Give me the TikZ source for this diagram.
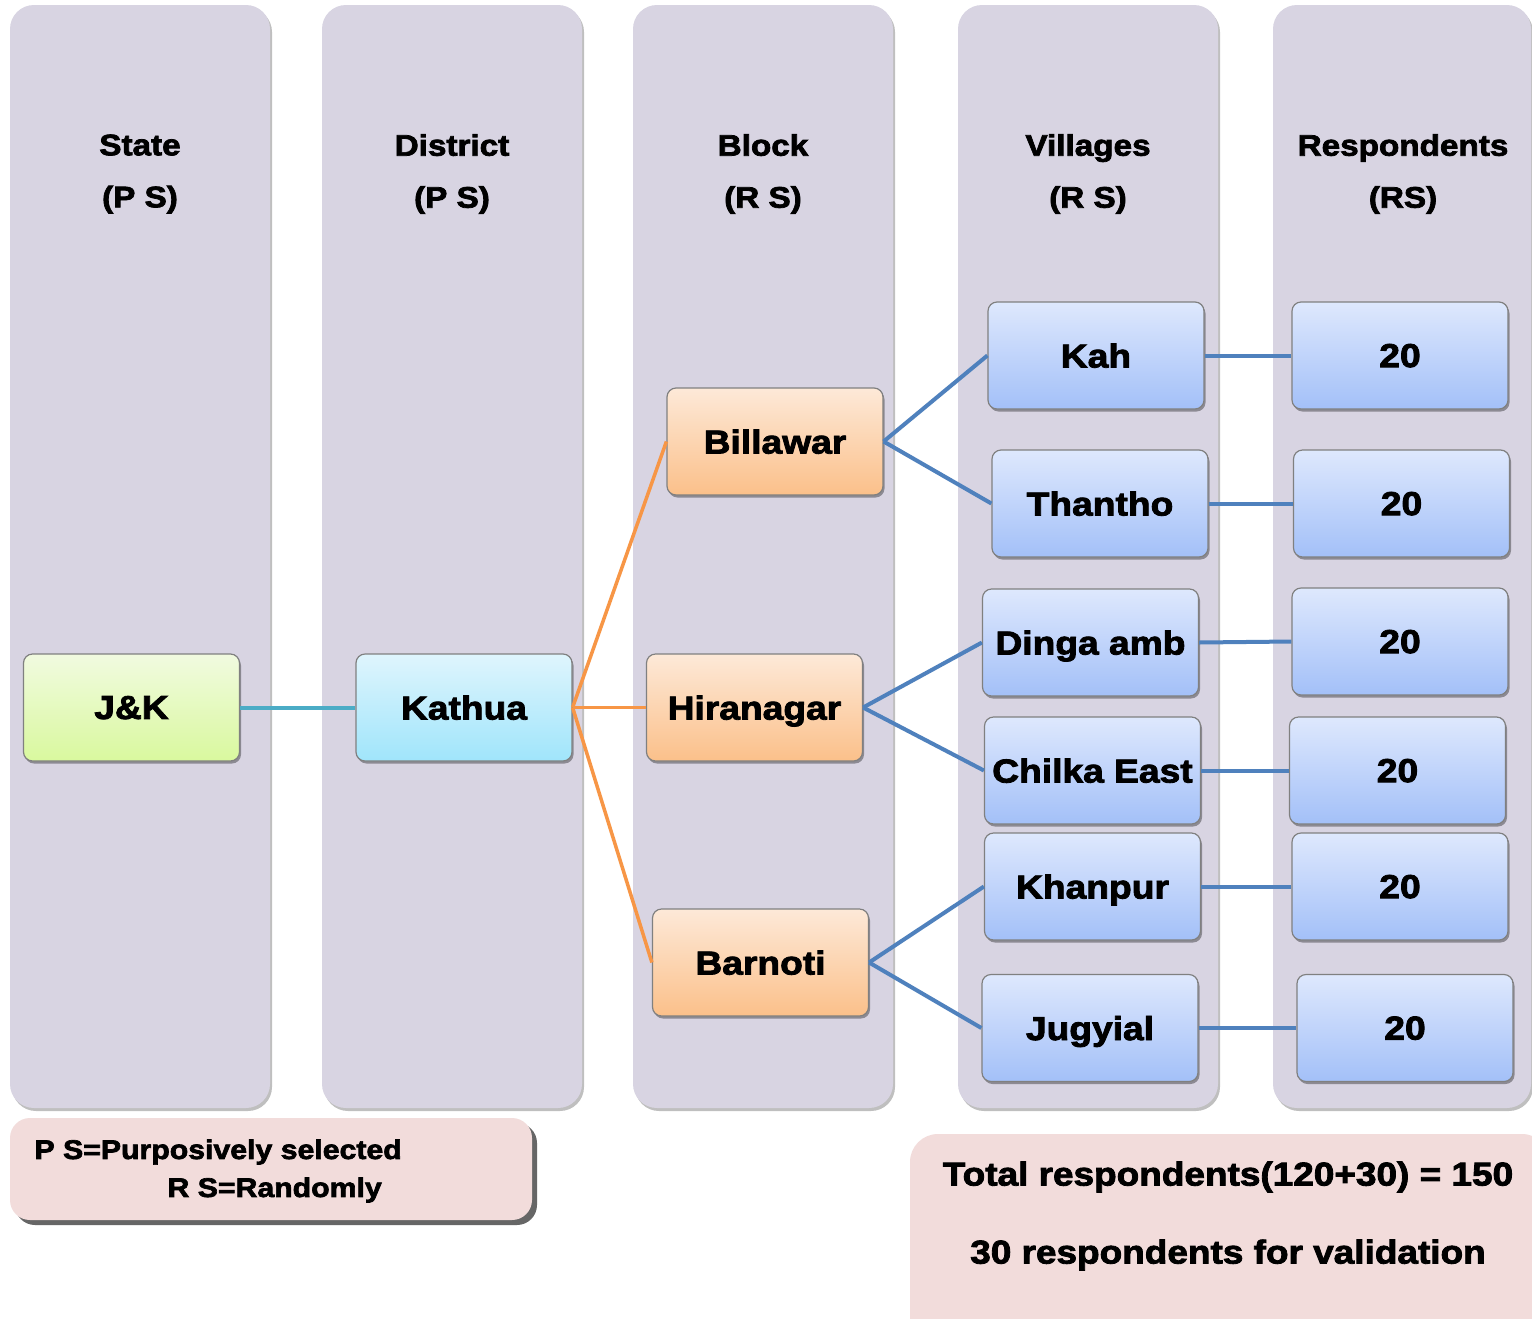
\documentclass[tikz,border=0pt]{standalone}
\usepackage{fontspec}
\newfontfamily\heavy{Liberation Sans Bold}[FakeStretch=1.12,FakeBold=2.5]
\usetikzlibrary{shadows}
\definecolor{colbg}{HTML}{D8D4E2}
\definecolor{pinkbg}{HTML}{F2DCDB}
\definecolor{tealln}{HTML}{4BACC6}
\definecolor{orangeln}{HTML}{F79646}
\definecolor{blueln}{HTML}{4F81BD}
\definecolor{edgegray}{HTML}{808080}
\definecolor{greentop}{HTML}{F1FAE0}
\definecolor{greenbot}{HTML}{D9F99E}
\definecolor{cyantop}{HTML}{DFF5FD}
\definecolor{cyanbot}{HTML}{A0E5FB}
\definecolor{orangetop}{HTML}{FDE9D8}
\definecolor{orangebot}{HTML}{FBC08A}
\definecolor{bluetop}{HTML}{DEE8FD}
\definecolor{bluebot}{HTML}{A3C0F8}
\tikzset{
  colbox/.style={draw=none, fill=colbg, rounded corners=24, minimum width=260, minimum height=1103,
    drop shadow={shadow xshift=2pt, shadow yshift=-3pt, opacity=0.25, fill=black}},
  hdr/.style={align=center, font={\heavy\fontsize{29.7}{52}\selectfont}},
  box/.style={draw=edgegray, line width=1.2pt, rounded corners=9, minimum width=216, minimum height=107,
    font={\heavy\fontsize{33.2}{36}\selectfont}, inner sep=0pt, text depth=0pt,
    drop shadow={shadow xshift=1.5pt, shadow yshift=-2.5pt, opacity=0.35, fill=black}},
  greenbox/.style={box, top color=greentop, bottom color=greenbot},
  cyanbox/.style={box, top color=cyantop, bottom color=cyanbot},
  orangebox/.style={box, top color=orangetop, bottom color=orangebot},
  bluebox/.style={box, top color=bluetop, bottom color=bluebot},
  tealcon/.style={draw=tealln, line width=4pt},
  orangecon/.style={draw=orangeln, line width=3.5pt},
  bluecon/.style={draw=blueln, line width=4pt},
  notebox/.style={fill=pinkbg, rounded corners=20},
  legtext/.style={anchor=west, font={\heavy\fontsize{27}{30}\selectfont}},
  tottext/.style={font={\heavy\fontsize{33}{36}\selectfont}},
}
\begin{document}
\begin{tikzpicture}[x=1pt,y=-1pt]
\useasboundingbox (0,0) rectangle (1532,1318);
\clip (0,0) rectangle (1532,1318);
\fill[white] (0,0) rectangle (1532,1318);
% columns
\node[colbox] (c1) at (140,556.5) {};
\node[colbox] (c2) at (452,556.5) {};
\node[colbox] (c3) at (763,556.5) {};
\node[colbox] (c4) at (1088,556.5) {};
\node[colbox, minimum width=258] (c5) at (1402,556.5) {};
% headers
\node[hdr] (h1) at (140,174) {State\\(P S)};
\node[hdr] (h2) at (452,174) {District\\(P S)};
\node[hdr] (h3) at (763,174) {Block\\(R S)};
\node[hdr] (h4) at (1088,174) {Villages\\(R S)};
\node[hdr] (h5) at (1403,174) {Respondents\\(RS)};
% nodes
\node[greenbox] (jk) at (131.5,707.5) {J\&K};
\node[cyanbox] (kat) at (464,707.5) {Kathua};
\node[orangebox] (bil) at (775,441.5) {Billawar};
\node[orangebox] (hir) at (754.5,707.5) {Hiranagar};
\node[orangebox] (bar) at (760.5,962.5) {Barnoti};
\node[bluebox] (kah) at (1096,355.5) {Kah};
\node[bluebox] (tha) at (1100,503.5) {Thantho};
\node[bluebox] (din) at (1090.5,642.5) {Dinga amb};
\node[bluebox] (chi) at (1092.5,770.5) {Chilka East};
\node[bluebox] (kha) at (1092.5,886.5) {Khanpur};
\node[bluebox] (jug) at (1090,1028) {Jugyial};
\node[bluebox] (r1) at (1400,355.5) {20};
\node[bluebox] (r2) at (1401.5,503.5) {20};
\node[bluebox] (r3) at (1400,641.5) {20};
\node[bluebox] (r4) at (1397.5,770.5) {20};
\node[bluebox] (r5) at (1400,886.5) {20};
\node[bluebox] (r6) at (1405,1028) {20};
% connectors
\draw[tealcon] (jk.east) -- (kat.west);
\draw[orangecon] (kat.east) -- (bil.west);
\draw[orangecon] (kat.east) -- (hir.west);
\draw[orangecon] (kat.east) -- (bar.west);
\draw[bluecon] (bil.east) -- (kah.west);
\draw[bluecon] (bil.east) -- (tha.west);
\draw[bluecon] (hir.east) -- (din.west);
\draw[bluecon] (hir.east) -- (chi.west);
\draw[bluecon] (bar.east) -- (kha.west);
\draw[bluecon] (bar.east) -- (jug.west);
\draw[bluecon] (kah.east) -- (r1.west);
\draw[bluecon] (tha.east) -- (r2.west);
\draw[bluecon] (din.east) -- (r3.west);
\draw[bluecon] (chi.east) -- (r4.west);
\draw[bluecon] (kha.east) -- (r5.west);
\draw[bluecon] (jug.east) -- (r6.west);
% legend
\fill[gray!80!black, rounded corners=20] (15,1123) rectangle (537,1225);
\node[notebox, minimum width=522, minimum height=102, inner sep=0pt] (leg) at (271,1169) {};
\node[legtext] (leg1) at (31,1152) {P S=Purposively selected};
\node[legtext] (leg2) at (164,1190) {R S=Randomly};
% total box
\fill[gray!80!black, rounded corners=28] (913,1138) rectangle (1560,1350);
\node[notebox, rounded corners=28, minimum width=640, minimum height=210, inner sep=0pt] (tot) at (1230,1239) {};
\node[tottext] (tot1) at (1228,1177) {Total respondents(120+30) = 150};
\node[tottext] (tot2) at (1228,1255) {30 respondents for validation};
\end{tikzpicture}
\end{document}
